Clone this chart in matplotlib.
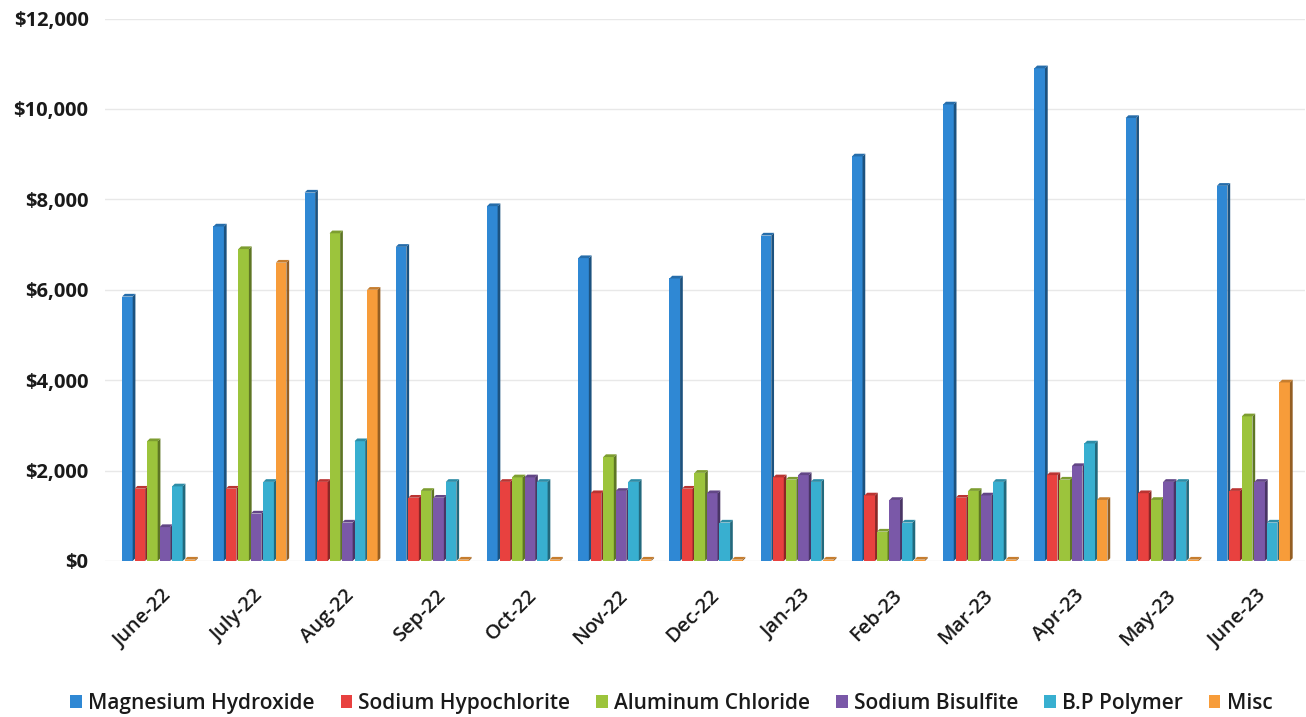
import matplotlib
matplotlib.use("Agg")
import matplotlib.pyplot as plt
from matplotlib.patches import Polygon
from matplotlib.ticker import FuncFormatter
import matplotlib.colors as mcolors
import numpy as np

months = ["June-22", "July-22", "Aug-22", "Sep-22", "Oct-22", "Nov-22", "Dec-22",
          "Jan-23", "Feb-23", "Mar-23", "Apr-23", "May-23", "June-23"]

magnesium_hydroxide = [5850, 7400, 8150, 6950, 7850, 6700, 6250, 7200, 8950, 10100, 10900, 9800, 8300]
sodium_hypochlorite = [1600, 1600, 1750, 1400, 1750, 1500, 1600, 1850, 1450, 1400, 1900, 1500, 1550]
aluminum_chloride = [2650, 6900, 7250, 1550, 1850, 2300, 1950, 1800, 650, 1550, 1800, 1350, 3200]
sodium_bisulfite = [750, 1050, 850, 1400, 1850, 1550, 1500, 1900, 1350, 1450, 2100, 1750, 1750]
bp_polymer = [1650, 1750, 2650, 1750, 1750, 1750, 850, 1750, 850, 1750, 2600, 1750, 850]
misc = [30, 6600, 6000, 30, 30, 30, 30, 30, 30, 30, 1350, 30, 3950]

series_names = ["Magnesium Hydroxide", "Sodium Hypochlorite", "Aluminum Chloride",
                "Sodium Bisulfite", "B.P Polymer", "Misc"]
series_values = [magnesium_hydroxide, sodium_hypochlorite, aluminum_chloride,
                 sodium_bisulfite, bp_polymer, misc]
series_colors = ["#2f88d4", "#e8413f", "#9cc43c", "#7a58a8", "#38afd0", "#f79c3a"]

plt.rcParams["font.family"] = ["Open Sans", "DejaVu Sans"]

fig = plt.figure(figsize=(13.06, 7.17), dpi=100)
ax = fig.add_axes([0.0806, 0.2176, 0.9186, 0.7565])

x = np.arange(len(months))
step = 0.137
width = 0.116
dx = 0.03       # depth of the side face, in x units
dy = 60         # depth of the top face, in value units


def darker(c, f):
    r, g, b = mcolors.to_rgb(c)
    return (r * f, g * f, b * f)


for i, (vals, col, name) in enumerate(zip(series_values, series_colors, series_names)):
    pos = x + (i - 2.5) * step - dx / 2
    ax.bar(pos, vals, width=width, color=col, edgecolor="none", zorder=3 + i * 0.01,
           label=name)
    side = darker(col, 0.6)
    top = darker(col, 0.8)
    for p, v in zip(pos, vals):
        r = p + width / 2
        l = p - width / 2
        ax.add_patch(Polygon([(r, 0), (r + dx, dy), (r + dx, v + dy), (r, v)],
                             closed=True, facecolor=side, edgecolor="none",
                             zorder=3 + i * 0.01))
        ax.add_patch(Polygon([(l, v), (r, v), (r + dx, v + dy), (l + dx, v + dy)],
                             closed=True, facecolor=top, edgecolor="none",
                             zorder=3 + i * 0.01))

ax.set_ylim(0, 12000)
ax.set_xlim(-0.6, 12.55)
ax.set_yticks(np.arange(0, 12001, 2000))
ax.yaxis.set_major_formatter(FuncFormatter(lambda v, _: f"${v:,.0f}"))
ax.grid(axis="y", color="#e8e8e8", linewidth=1.0, zorder=0)
ax.set_axisbelow(True)
for s in ax.spines.values():
    s.set_visible(False)
ax.tick_params(axis="both", length=0)
ax.tick_params(axis="y", pad=12)

for lbl in ax.get_yticklabels():
    lbl.set_fontsize(14.5)
    lbl.set_fontweight("bold")
    lbl.set_color("#1a1a1a")

ax.set_xticks(x + 0.02)
ax.set_xticklabels(months, rotation=45, ha="right", va="top",
                   rotation_mode="anchor", fontsize=14.5, fontweight="semibold",
                   color="#1a1a1a")
ax.tick_params(axis="x", pad=18)

leg = fig.legend(loc="lower center", bbox_to_anchor=(0.514, -0.022), ncol=6,
                 frameon=False, fontsize=15, handlelength=0.55, handleheight=0.55,
                 handletextpad=0.3, columnspacing=1.25)
for t in leg.get_texts():
    t.set_fontweight("semibold")
    t.set_color("#1a1a1a")

fig.savefig("out.png", dpi=100)
